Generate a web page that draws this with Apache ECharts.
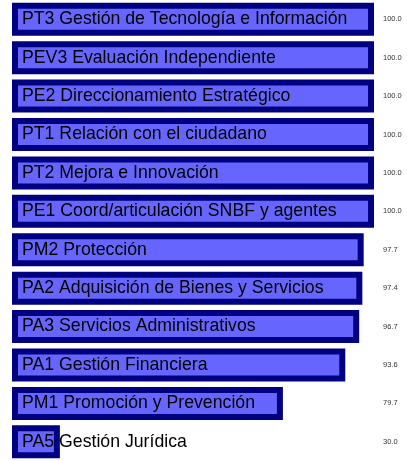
<!DOCTYPE html>
<html>
<head>
<meta charset="utf-8">
<script src="https://cdn.jsdelivr.net/npm/echarts@6/dist/echarts.min.js"></script>
<style>
  html, body { margin: 0; padding: 0; background: #fff; }
  #chart { width: 407px; height: 461px; }
</style>
</head>
<body>
<div id="chart"></div>
<script>
let categories = [
    "PT3 Gestión de Tecnología e Información",
    "PEV3 Evaluación Independiente",
    "PE2 Direccionamiento Estratégico",
    "PT1 Relación con el ciudadano",
    "PT2 Mejora e Innovación",
    "PE1 Coord/articulación SNBF y agentes",
    "PM2 Protección",
    "PA2 Adquisición de Bienes y Servicios",
    "PA3 Servicios Administrativos",
    "PA1 Gestión Financiera",
    "PM1 Promoción y Prevención",
    "PA5 Gestión Jurídica"
];
let values = [100.0, 100.0, 100.0, 100.0, 100.0, 100.0, 97.7, 97.4, 96.7, 93.6, 79.7, 30.0];

let chart = echarts.init(document.getElementById("chart"));

let option = {
    animation: false,
    grid: { left: 15, right: 33, top: 0, bottom: -6 },
    xAxis: {
        type: "value",
        min: 20,
        max: 100,
        show: false
    },
    yAxis: [
        {
            type: "category",
            data: categories,
            inverse: true,
            show: false
        },
        {
            // value labels on the right side
            type: "category",
            position: "right",
            inverse: true,
            data: values.map(v => v.toFixed(1)),
            axisLine: { show: false },
            axisTick: { show: false },
            axisLabel: {
                margin: 9,
                color: "#333",
                fontSize: 7.5,
                fontFamily: "Liberation Sans, Arial, sans-serif"
            }
        }
    ],
    series: [{
        type: "bar",
        data: values,
        barWidth: 33,
        itemStyle: {
            color: "#6666ff",
            borderColor: "#000080",
            borderWidth: 6
        },
        label: {
            show: true,
            position: "insideLeft",
            distance: 10,
            color: "#000",
            fontSize: 17.7,
            fontFamily: "Liberation Sans, Arial, sans-serif",
            formatter: p => categories[p.dataIndex]
        }
    }]
};
chart.setOption(option);
</script>
</body>
</html>
